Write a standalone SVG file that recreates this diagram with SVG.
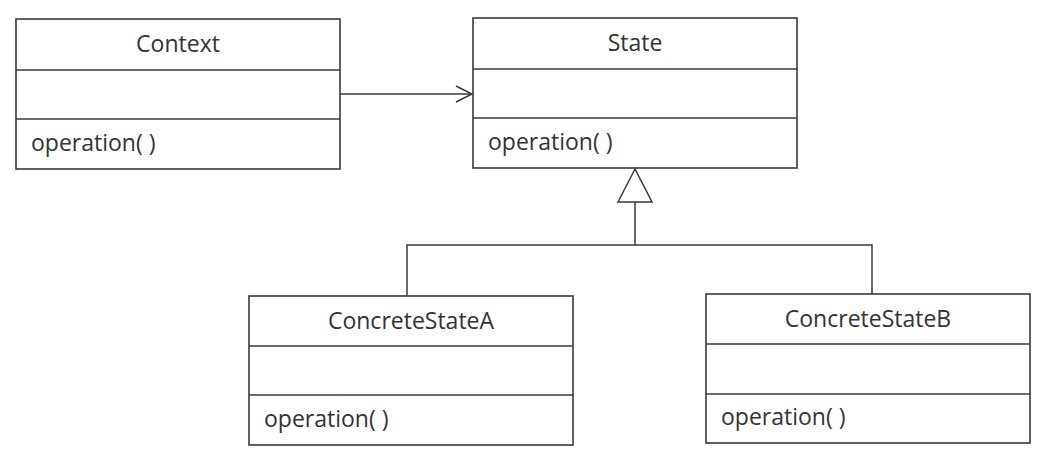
<svg xmlns="http://www.w3.org/2000/svg" width="1048" height="453" viewBox="0 0 1048 453">
<style>
.box{fill:#fff;stroke:#3a3a3a;stroke-width:1.6}
.sep{stroke:#3a3a3a;stroke-width:1.4}
.t{font-family:"Open Sans","Noto Sans",sans-serif;font-size:23px;fill:#333}
.c{text-anchor:middle}
.ln{fill:none;stroke:#3a3a3a;stroke-width:1.5}
</style>
<rect width="1048" height="453" fill="#fff"/>
<g id="context">
<rect class="box" x="16" y="19" width="324" height="150"/>
<line class="sep" x1="16" y1="70" x2="340" y2="70"/>
<line class="sep" x1="16" y1="119" x2="340" y2="119"/>
<text class="t c" x="178" y="52">Context</text>
<text class="t" x="31" y="151">operation( )</text>
</g>
<g id="state">
<rect class="box" x="473" y="18" width="324" height="150"/>
<line class="sep" x1="473" y1="69" x2="797" y2="69"/>
<line class="sep" x1="473" y1="118" x2="797" y2="118"/>
<text class="t c" x="635" y="51">State</text>
<text class="t" x="488" y="150">operation( )</text>
</g>
<g id="concreteStateA">
<rect class="box" x="249" y="296" width="324" height="149"/>
<line class="sep" x1="249" y1="346" x2="573" y2="346"/>
<line class="sep" x1="249" y1="395" x2="573" y2="395"/>
<text class="t c" x="411" y="329">ConcreteStateA</text>
<text class="t" x="264" y="427">operation( )</text>
</g>
<g id="concreteStateB">
<rect class="box" x="706" y="294" width="324" height="149"/>
<line class="sep" x1="706" y1="344" x2="1030" y2="344"/>
<line class="sep" x1="706" y1="394" x2="1030" y2="394"/>
<text class="t c" x="868" y="327">ConcreteStateB</text>
<text class="t" x="721" y="425">operation( )</text>
</g>
<g id="connectors">
<line class="ln" x1="340" y1="94" x2="472" y2="94"/>
<polyline class="ln" points="456,86 472,94 456,102"/>
<polygon class="ln" fill="#fff" points="635,169 618,202 652,202"/>
<line class="ln" x1="635" y1="202" x2="635" y2="245"/>
<polyline class="ln" points="407,296 407,245 872,245 872,294"/>
</g>
</svg>
